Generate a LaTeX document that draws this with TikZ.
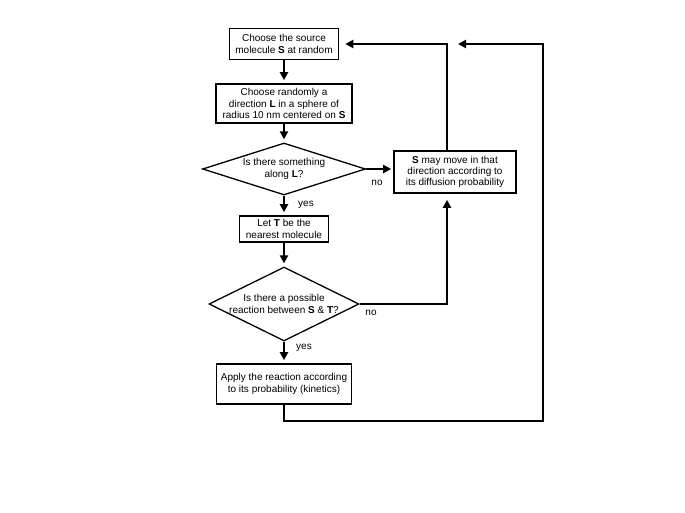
\documentclass[tikz,border=0pt]{standalone}
\usepackage{fontspec}
\setmainfont{Liberation Sans}
\usetikzlibrary{shapes.geometric,arrows.meta}
\begin{document}
\begin{tikzpicture}[x=1pt,y=-1pt,
  every node/.style={font=\fontsize{10}{11.3}\selectfont},
  box/.style={draw,line width=1.6pt,align=center,inner sep=0pt},
  dia/.style={draw,line width=1.3pt,diamond,inner sep=0pt},
  arr/.style={line width=2.2pt,-{Triangle[length=8pt,width=8pt]}},
  lbl/.style={inner sep=0pt}]
\useasboundingbox (0,0) rectangle (685,513);
\node[box,minimum width=109pt,minimum height=31pt] (b1) at (284,44) {Choose the source\\molecule \textbf{S} at random};
\node[box,minimum width=136pt,minimum height=39pt] (b2) at (284,103.5) {Choose randomly a\\direction \textbf{L} in a sphere of\\radius 10 nm centered on \textbf{S}};
\node[dia,minimum width=163pt,minimum height=52pt,label={[align=center,inner sep=0pt]center:Is there something\\along \textbf{L}?}] (d1) at (284,169) {};
\node[box,minimum width=122pt,minimum height=42pt] (b3) at (455,172) {\textbf{S} may move in that\\direction according to\\its diffusion probability};
\node[box,minimum width=89pt,minimum height=26pt] (bT) at (284,229) {Let \textbf{T} be the\\nearest molecule};
\node[dia,minimum width=150pt,minimum height=74pt,label={[align=center,inner sep=0pt]center:Is there a possible\\reaction between \textbf{S} \& \textbf{T}?}] (d2) at (284,304) {};
\node[box,minimum width=135pt,minimum height=40pt] (b4) at (284,384) {Apply the reaction according\\to its probability (kinetics)};
\node[lbl] (no1) at (377,183) {no};
\node[lbl] (yes1) at (306,205) {yes};
\node[lbl] (no2) at (371,313) {no};
\node[lbl] (yes2) at (304,348) {yes};
\coordinate (ret) at (458,44);
\coordinate (rc) at (543,421);
\draw[arr,shorten >=3pt] (b1) -- (b2);
\draw[arr,shorten >=3pt] (b2) -- (d1);
\draw[arr,shorten >=2pt] (d1.east) -- (d1.east -| b3.west);
\draw[arr,shorten >=3pt] (d1) -- (bT);
\draw[arr,shorten >=3pt] (bT) -- (d2);
\draw[arr,shorten >=3pt] (d2) -- (b4);
\draw[arr,shorten >=6pt] ([xshift=-8pt]b3.north) |- (b1.east);
\draw[arr,shorten >=6pt] (d2.east) -| ([xshift=-8pt]b3.south);
\draw[arr] (b4.south) |- (rc) |- (ret);
\end{tikzpicture}
\end{document}
